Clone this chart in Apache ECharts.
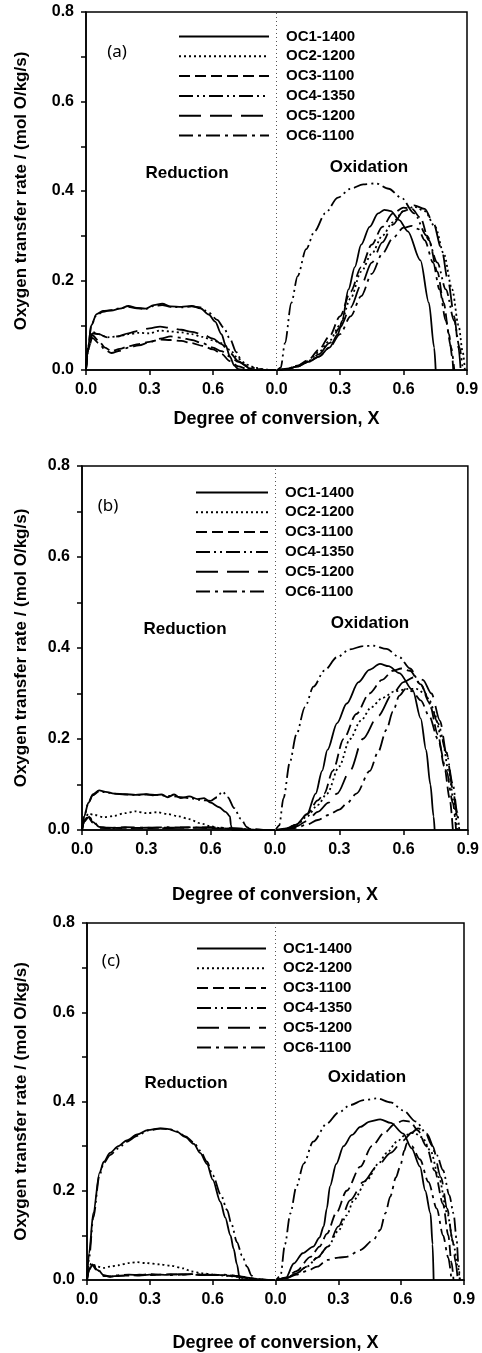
<!DOCTYPE html>
<html>
<head>
<meta charset="utf-8">
<script src="https://cdn.jsdelivr.net/npm/echarts@6/dist/echarts.min.js"></script>
<style>
html,body{margin:0;padding:0;background:#fff;}
#chart{width:482px;height:1353px;}
</style>
</head>
<body>
<div id="chart"></div>
<script>
// ---------- DATA ----------
const seriesNames = ["OC1-1400","OC2-1200","OC3-1100","OC4-1350","OC5-1200","OC6-1100"];
const xTickValues = [0.0, 0.3, 0.6, 0.0, 0.3, 0.6, 0.9];
const panelLabels = ["(a)","(b)","(c)"];

// Panel (a) reduction [X, rate]
const redA_OC1 = [[0,0],[0.01,0.05],[0.025,0.1],[0.05,0.125],[0.08,0.132],[0.12,0.133],[0.16,0.137],[0.2,0.143],[0.24,0.139],[0.28,0.137],[0.32,0.145],[0.36,0.148],[0.4,0.142],[0.45,0.141],[0.5,0.143],[0.54,0.138],[0.58,0.124],[0.61,0.108],[0.64,0.08],[0.66,0.055],[0.68,0.03],[0.7,0.01],[0.72,0.002],[0.75,0]];
const redA_OC2 = [[0,0],[0.01,0.05],[0.03,0.085],[0.06,0.08],[0.1,0.073],[0.15,0.075],[0.2,0.08],[0.25,0.083],[0.3,0.082],[0.35,0.088],[0.4,0.086],[0.45,0.084],[0.5,0.08],[0.55,0.074],[0.6,0.066],[0.64,0.06],[0.68,0.045],[0.72,0.025],[0.76,0.012],[0.8,0.005],[0.85,0.001],[0.88,0]];
const redA_OC3 = [[0,0],[0.01,0.045],[0.03,0.078],[0.06,0.065],[0.09,0.05],[0.12,0.042],[0.16,0.047],[0.2,0.053],[0.25,0.058],[0.3,0.063],[0.35,0.068],[0.4,0.067],[0.45,0.065],[0.5,0.06],[0.55,0.054],[0.6,0.046],[0.64,0.036],[0.68,0.02],[0.72,0.008],[0.76,0.003],[0.8,0]];
const redA_OC4 = [[0,0],[0.01,0.05],[0.025,0.1],[0.05,0.123],[0.08,0.13],[0.12,0.134],[0.16,0.138],[0.2,0.141],[0.24,0.138],[0.28,0.136],[0.32,0.143],[0.36,0.145],[0.4,0.141],[0.45,0.14],[0.5,0.142],[0.54,0.14],[0.58,0.128],[0.62,0.112],[0.65,0.095],[0.68,0.07],[0.71,0.04],[0.74,0.015],[0.77,0.004],[0.8,0]];
const redA_OC5 = [[0,0],[0.01,0.05],[0.03,0.082],[0.06,0.08],[0.1,0.073],[0.15,0.075],[0.2,0.082],[0.25,0.088],[0.3,0.093],[0.35,0.097],[0.4,0.094],[0.45,0.09],[0.5,0.085],[0.55,0.08],[0.6,0.07],[0.64,0.058],[0.68,0.038],[0.72,0.02],[0.76,0.008],[0.8,0.003],[0.84,0]];
const redA_OC6 = [[0,0],[0.01,0.045],[0.03,0.072],[0.06,0.06],[0.09,0.045],[0.12,0.038],[0.16,0.043],[0.2,0.05],[0.25,0.055],[0.3,0.062],[0.35,0.07],[0.4,0.075],[0.45,0.072],[0.5,0.067],[0.55,0.06],[0.6,0.05],[0.64,0.042],[0.68,0.03],[0.72,0.018],[0.76,0.01],[0.8,0.004],[0.85,0]];
// Panel (a) oxidation [X, rate]
const oxA_OC1 = [[0,0],[0.05,0.002],[0.1,0.008],[0.15,0.018],[0.2,0.03],[0.25,0.05],[0.29,0.08],[0.31,0.11],[0.34,0.18],[0.37,0.23],[0.4,0.28],[0.44,0.32],[0.48,0.35],[0.51,0.358],[0.54,0.355],[0.58,0.335],[0.62,0.31],[0.68,0.245],[0.72,0.15],[0.745,0.05],[0.752,0]];
const oxA_OC2 = [[0,0],[0.05,0.002],[0.1,0.01],[0.15,0.02],[0.2,0.04],[0.25,0.065],[0.3,0.1],[0.35,0.16],[0.4,0.22],[0.45,0.26],[0.5,0.3],[0.55,0.33],[0.6,0.355],[0.65,0.365],[0.7,0.355],[0.75,0.32],[0.79,0.26],[0.83,0.18],[0.86,0.1],[0.88,0.04],[0.89,0]];
const oxA_OC3 = [[0,0],[0.05,0.003],[0.1,0.01],[0.15,0.022],[0.2,0.045],[0.25,0.075],[0.3,0.12],[0.35,0.175],[0.4,0.23],[0.45,0.28],[0.5,0.32],[0.55,0.35],[0.6,0.363],[0.64,0.36],[0.68,0.34],[0.72,0.29],[0.76,0.22],[0.79,0.15],[0.815,0.08],[0.83,0.03],[0.835,0]];
const oxA_OC4 = [[0,0],[0.02,0.005],[0.04,0.06],[0.07,0.15],[0.1,0.21],[0.14,0.27],[0.18,0.31],[0.23,0.35],[0.29,0.385],[0.35,0.405],[0.41,0.415],[0.47,0.417],[0.53,0.405],[0.59,0.385],[0.65,0.35],[0.71,0.3],[0.76,0.24],[0.8,0.18],[0.84,0.11],[0.865,0.05],[0.88,0]];
const oxA_OC5 = [[0,0],[0.05,0.002],[0.1,0.008],[0.15,0.02],[0.2,0.035],[0.25,0.06],[0.3,0.095],[0.35,0.14],[0.4,0.19],[0.45,0.24],[0.5,0.285],[0.55,0.325],[0.6,0.355],[0.65,0.368],[0.7,0.36],[0.74,0.33],[0.78,0.27],[0.81,0.2],[0.84,0.12],[0.86,0.05],[0.87,0]];
const oxA_OC6 = [[0,0],[0.05,0.002],[0.1,0.008],[0.15,0.018],[0.2,0.03],[0.25,0.05],[0.3,0.08],[0.35,0.12],[0.4,0.165],[0.45,0.215],[0.5,0.26],[0.55,0.295],[0.6,0.318],[0.64,0.322],[0.67,0.315],[0.7,0.29],[0.74,0.24],[0.77,0.18],[0.8,0.11],[0.825,0.05],[0.84,0]];

// Panel (b) reduction
const redB_OC1 = [[0,0],[0.01,0.03],[0.03,0.06],[0.05,0.078],[0.08,0.087],[0.11,0.084],[0.15,0.08],[0.2,0.079],[0.25,0.077],[0.3,0.079],[0.33,0.076],[0.37,0.078],[0.4,0.072],[0.43,0.078],[0.46,0.07],[0.5,0.074],[0.54,0.068],[0.57,0.07],[0.6,0.06],[0.64,0.05],[0.67,0.04],[0.69,0.03],[0.695,0.01],[0.7,0]];
const redB_OC2 = [[0,0],[0.01,0.02],[0.03,0.036],[0.06,0.033],[0.1,0.028],[0.15,0.031],[0.2,0.037],[0.25,0.041],[0.3,0.037],[0.35,0.039],[0.4,0.035],[0.45,0.03],[0.5,0.024],[0.55,0.015],[0.6,0.008],[0.65,0.004],[0.7,0.002],[0.75,0]];
const redB_OC3 = [[0,0],[0.01,0.02],[0.03,0.03],[0.05,0.018],[0.08,0.006],[0.12,0.004],[0.2,0.005],[0.3,0.004],[0.4,0.005],[0.5,0.006],[0.6,0.004],[0.7,0.003],[0.8,0.001],[0.85,0]];
const redB_OC4 = [[0,0],[0.01,0.03],[0.03,0.06],[0.05,0.076],[0.08,0.085],[0.11,0.083],[0.15,0.08],[0.2,0.078],[0.25,0.077],[0.3,0.078],[0.35,0.077],[0.4,0.075],[0.45,0.073],[0.5,0.07],[0.55,0.066],[0.6,0.064],[0.63,0.072],[0.655,0.085],[0.68,0.072],[0.71,0.048],[0.74,0.025],[0.77,0.006],[0.79,0]];
const redB_OC5 = [[0,0],[0.01,0.018],[0.03,0.028],[0.05,0.016],[0.08,0.005],[0.12,0.005],[0.2,0.004],[0.3,0.005],[0.4,0.004],[0.5,0.005],[0.6,0.005],[0.7,0.003],[0.8,0.001],[0.85,0]];
const redB_OC6 = [[0,0],[0.01,0.02],[0.03,0.032],[0.05,0.02],[0.08,0.007],[0.12,0.004],[0.2,0.006],[0.3,0.005],[0.4,0.006],[0.5,0.005],[0.6,0.006],[0.7,0.004],[0.8,0.002],[0.86,0]];
// Panel (b) oxidation
const oxB_OC1 = [[0,0],[0.05,0.003],[0.1,0.012],[0.15,0.035],[0.19,0.08],[0.22,0.13],[0.245,0.176],[0.29,0.235],[0.335,0.278],[0.39,0.325],[0.44,0.352],[0.49,0.365],[0.53,0.36],[0.58,0.345],[0.643,0.307],[0.68,0.245],[0.705,0.176],[0.725,0.1],[0.74,0.03],[0.745,0]];
const oxB_OC2 = [[0,0],[0.05,0.003],[0.1,0.01],[0.15,0.03],[0.2,0.055],[0.243,0.08],[0.3,0.14],[0.35,0.2],[0.4,0.24],[0.45,0.27],[0.5,0.29],[0.56,0.305],[0.62,0.31],[0.66,0.31],[0.7,0.3],[0.74,0.26],[0.78,0.2],[0.81,0.13],[0.835,0.06],[0.85,0]];
const oxB_OC3 = [[0,0],[0.05,0.003],[0.1,0.012],[0.15,0.035],[0.2,0.065],[0.23,0.08],[0.27,0.13],[0.32,0.2],[0.38,0.255],[0.44,0.3],[0.5,0.33],[0.55,0.35],[0.59,0.355],[0.63,0.35],[0.68,0.32],[0.72,0.28],[0.76,0.21],[0.79,0.14],[0.815,0.07],[0.83,0]];
const oxB_OC4 = [[0,0],[0.02,0.01],[0.04,0.07],[0.07,0.15],[0.1,0.21],[0.14,0.27],[0.18,0.315],[0.23,0.35],[0.29,0.38],[0.35,0.397],[0.41,0.404],[0.46,0.405],[0.52,0.398],[0.58,0.38],[0.63,0.355],[0.68,0.32],[0.72,0.285],[0.76,0.235],[0.8,0.17],[0.83,0.1],[0.85,0.04],[0.86,0]];
const oxB_OC5 = [[0,0],[0.05,0.002],[0.1,0.008],[0.15,0.02],[0.2,0.04],[0.25,0.06],[0.29,0.08],[0.35,0.13],[0.41,0.2],[0.48,0.25],[0.55,0.3],[0.6,0.325],[0.65,0.336],[0.69,0.33],[0.73,0.3],[0.77,0.24],[0.8,0.17],[0.83,0.09],[0.85,0.03],[0.86,0]];
const oxB_OC6 = [[0,0],[0.05,0.002],[0.1,0.005],[0.15,0.012],[0.2,0.022],[0.25,0.033],[0.3,0.045],[0.335,0.058],[0.38,0.08],[0.443,0.13],[0.48,0.17],[0.52,0.22],[0.55,0.26],[0.58,0.295],[0.61,0.31],[0.64,0.305],[0.68,0.285],[0.72,0.25],[0.76,0.2],[0.8,0.13],[0.83,0.06],[0.845,0]];

// Panel (c) reduction
const redC_OC1 = [[0,0],[0.01,0.06],[0.03,0.15],[0.06,0.24],[0.08,0.265],[0.11,0.285],[0.15,0.3],[0.19,0.313],[0.24,0.326],[0.29,0.336],[0.35,0.34],[0.39,0.338],[0.43,0.332],[0.47,0.32],[0.51,0.305],[0.54,0.285],[0.573,0.26],[0.6,0.225],[0.637,0.175],[0.66,0.14],[0.685,0.1],[0.7,0.07],[0.716,0.035],[0.73,0]];
const redC_OC2 = [[0,0],[0.01,0.025],[0.02,0.037],[0.05,0.03],[0.08,0.027],[0.11,0.03],[0.15,0.033],[0.2,0.038],[0.237,0.04],[0.28,0.038],[0.35,0.035],[0.4,0.032],[0.46,0.026],[0.5,0.019],[0.55,0.015],[0.6,0.012],[0.65,0.01],[0.7,0.008],[0.75,0.005],[0.8,0.002],[0.85,0]];
const redC_OC3 = [[0,0],[0.01,0.025],[0.025,0.035],[0.05,0.022],[0.08,0.01],[0.11,0.007],[0.15,0.01],[0.2,0.01],[0.25,0.012],[0.3,0.011],[0.35,0.012],[0.4,0.013],[0.45,0.012],[0.5,0.013],[0.55,0.012],[0.6,0.012],[0.65,0.011],[0.7,0.01],[0.75,0.006],[0.8,0.003],[0.85,0.001],[0.88,0]];
const redC_OC4 = [[0,0],[0.01,0.05],[0.03,0.14],[0.06,0.235],[0.08,0.262],[0.11,0.28],[0.15,0.295],[0.19,0.31],[0.24,0.323],[0.29,0.335],[0.35,0.339],[0.39,0.338],[0.43,0.333],[0.47,0.322],[0.51,0.308],[0.54,0.29],[0.573,0.265],[0.6,0.235],[0.64,0.19],[0.669,0.157],[0.69,0.125],[0.716,0.085],[0.74,0.055],[0.764,0.03],[0.786,0.01],[0.8,0]];
const redC_OC5 = [[0,0],[0.01,0.022],[0.025,0.033],[0.05,0.02],[0.08,0.009],[0.11,0.008],[0.15,0.009],[0.2,0.011],[0.25,0.01],[0.3,0.012],[0.35,0.011],[0.4,0.012],[0.45,0.013],[0.5,0.012],[0.55,0.011],[0.6,0.012],[0.65,0.01],[0.7,0.009],[0.75,0.005],[0.8,0.002],[0.86,0]];
const redC_OC6 = [[0,0],[0.01,0.024],[0.025,0.036],[0.05,0.024],[0.08,0.011],[0.11,0.008],[0.15,0.011],[0.2,0.012],[0.25,0.011],[0.3,0.013],[0.35,0.012],[0.4,0.011],[0.45,0.012],[0.5,0.013],[0.55,0.012],[0.6,0.011],[0.65,0.012],[0.7,0.01],[0.75,0.007],[0.8,0.003],[0.87,0]];
// Panel (c) oxidation
const oxC_OC1 = [[0,0],[0.05,0.005],[0.087,0.037],[0.13,0.06],[0.18,0.075],[0.21,0.095],[0.23,0.12],[0.245,0.16],[0.26,0.21],[0.29,0.26],[0.325,0.3],[0.365,0.325],[0.405,0.343],[0.45,0.355],[0.5,0.36],[0.55,0.352],[0.61,0.328],[0.65,0.295],[0.69,0.254],[0.715,0.2],[0.74,0.149],[0.75,0.08],[0.755,0]];
const oxC_OC2 = [[0,0],[0.05,0.004],[0.1,0.015],[0.15,0.03],[0.2,0.05],[0.25,0.075],[0.3,0.11],[0.34,0.145],[0.373,0.179],[0.437,0.224],[0.49,0.26],[0.53,0.284],[0.58,0.31],[0.62,0.325],[0.66,0.33],[0.7,0.32],[0.74,0.29],[0.78,0.23],[0.82,0.15],[0.85,0.08],[0.87,0.03],[0.88,0]];
const oxC_OC3 = [[0,0],[0.05,0.005],[0.1,0.02],[0.167,0.052],[0.21,0.075],[0.246,0.104],[0.29,0.15],[0.34,0.2],[0.405,0.254],[0.46,0.3],[0.52,0.33],[0.57,0.35],[0.61,0.357],[0.643,0.355],[0.68,0.335],[0.72,0.3],[0.76,0.245],[0.8,0.17],[0.825,0.1],[0.84,0.04],[0.85,0]];
const oxC_OC4 = [[0,0],[0.024,0.01],[0.045,0.08],[0.071,0.149],[0.1,0.21],[0.135,0.261],[0.18,0.31],[0.246,0.351],[0.3,0.375],[0.357,0.392],[0.42,0.403],[0.484,0.407],[0.55,0.398],[0.61,0.38],[0.67,0.355],[0.722,0.328],[0.77,0.28],[0.8,0.246],[0.83,0.19],[0.85,0.149],[0.865,0.09],[0.873,0.037],[0.88,0]];
const oxC_OC5 = [[0,0],[0.05,0.004],[0.1,0.015],[0.15,0.03],[0.2,0.05],[0.25,0.075],[0.3,0.12],[0.357,0.179],[0.42,0.22],[0.484,0.254],[0.55,0.285],[0.61,0.313],[0.65,0.33],[0.68,0.34],[0.71,0.335],[0.75,0.3],[0.79,0.23],[0.82,0.16],[0.845,0.09],[0.86,0.04],[0.87,0]];
const oxC_OC6 = [[0,0],[0.05,0.004],[0.1,0.012],[0.15,0.02],[0.2,0.03],[0.246,0.045],[0.3,0.05],[0.34,0.052],[0.405,0.067],[0.468,0.09],[0.5,0.112],[0.525,0.15],[0.548,0.187],[0.575,0.23],[0.595,0.254],[0.615,0.29],[0.627,0.306],[0.65,0.3],[0.69,0.27],[0.73,0.22],[0.77,0.16],[0.8,0.1],[0.825,0.05],[0.84,0]];

const panels = [
  {red:[redA_OC1,redA_OC2,redA_OC3,redA_OC4,redA_OC5,redA_OC6], ox:[oxA_OC1,oxA_OC2,oxA_OC3,oxA_OC4,oxA_OC5,oxA_OC6]},
  {red:[redB_OC1,redB_OC2,redB_OC3,redB_OC4,redB_OC5,redB_OC6], ox:[oxB_OC1,oxB_OC2,oxB_OC3,oxB_OC4,oxB_OC5,oxB_OC6]},
  {red:[redC_OC1,redC_OC2,redC_OC3,redC_OC4,redC_OC5,redC_OC6], ox:[oxC_OC1,oxC_OC2,oxC_OC3,oxC_OC4,oxC_OC5,oxC_OC6]}
];

// ---------- STYLE / LAYOUT ----------
const FONT = "'Liberation Sans', Arial, sans-serif";
const dashTypes = ['solid',[2,3],[11,5],[14,4,2,4,2,4],[22,9],[14,5,3,5]];
const SPLIT = 0.9; // position of the reduction/oxidation boundary on the combined axis
const grids = [
  {left:86, top:12, width:381, height:358},
  {left:82, top:466, width:387, height:364},
  {left:87, top:923, width:377, height:357}
];
const xNameGaps = [40, 56, 54];
const yNameGaps = [56, 52, 57];
const legendPos = [
  {left:178, top:29, itemWidth:90},
  {left:195, top:485, itemWidth:72},
  {left:196, top:941, itemWidth:69}
];
const textPos = [
  {lab:[117,52], red:[187,173], ox:[369,167]},
  {lab:[108,506], red:[185,629], ox:[370,623]},
  {lab:[111,961], red:[186,1083], ox:[367,1077]}
];

const xAxes = [], yAxes = [], series = [], legends = [], graphics = [];
grids.forEach((g, p) => {
  xAxes.push({
    type:'value', gridIndex:p, min:0, max:1.8, interval:0.3,
    axisLine:{show:true, onZero:false, lineStyle:{color:'#000', width:1.5}},
    axisTick:{show:true, length:5, lineStyle:{color:'#000', width:1.5}},
    splitLine:{show:false},
    axisLabel:{margin:12, color:'#000', fontSize:16, fontWeight:'bold', fontFamily:FONT,
      formatter: v => (v < SPLIT - 1e-9 ? v : v - SPLIT).toFixed(1)},
    name:'Degree of conversion, X', nameLocation:'middle', nameGap:xNameGaps[p],
    nameTextStyle:{color:'#000', fontSize:18, fontWeight:'bold', fontFamily:FONT}
  });
  yAxes.push({
    type:'value', gridIndex:p, min:0, max:0.8, interval:0.2,
    axisLine:{show:true, lineStyle:{color:'#000', width:1.5}},
    axisTick:{show:true, length:5, lineStyle:{color:'#000', width:1.5}},
    minorTick:{show:true, splitNumber:2, length:5, lineStyle:{color:'#000', width:1.5}},
    splitLine:{show:false},
    axisLabel:{margin:12, color:'#000', fontSize:16, fontWeight:'bold', fontFamily:FONT,
      formatter: v => v.toFixed(1)},
    name:'Oxygen transfer rate / (mol O/kg/s)', nameLocation:'middle', nameGap:yNameGaps[p],
    nameTextStyle:{color:'#000', fontSize:17, fontWeight:'bold', fontFamily:FONT}
  });
  seriesNames.forEach((nm, i) => {
    const data = panels[p].red[i].concat(panels[p].ox[i].map(d => [SPLIT + d[0], d[1]]));
    const s = {
      name:nm, type:'line', xAxisIndex:p, yAxisIndex:p, data:data,
      symbol:'none', smooth:0.3, smoothMonotone:'x', silent:true,
      lineStyle:{color:'#000', width:1.8, type:dashTypes[i]},
      itemStyle:{color:'#000'}
    };
    if (i === 0) {
      s.markLine = {silent:true, symbol:'none', label:{show:false},
        lineStyle:{color:'#555', width:1, type:[1,3]}, data:[{xAxis:SPLIT}]};
    }
    series.push(s);
  });
  legends.push({
    orient:'vertical', left:legendPos[p].left, top:legendPos[p].top, padding:0,
    itemWidth:legendPos[p].itemWidth, itemHeight:14, itemGap:4.8, selectedMode:false,
    data:seriesNames,
    itemStyle:{opacity:0, color:'transparent', borderWidth:0},
    lineStyle:{width:2},
    textStyle:{color:'#000', fontSize:15, lineHeight:14, fontWeight:'bold', fontFamily:FONT, padding:[0,0,0,12]}
  });
  const tp = textPos[p];
  graphics.push({type:'text', x:tp.lab[0], y:tp.lab[1], style:{text:panelLabels[p], fill:'#000',
    font:"17px 'Noto Sans', sans-serif", textAlign:'center', textVerticalAlign:'middle'}});
  graphics.push({type:'text', x:tp.red[0], y:tp.red[1], style:{text:'Reduction', fill:'#000',
    font:"bold 17px 'Liberation Sans', Arial, sans-serif", textAlign:'center', textVerticalAlign:'middle'}});
  graphics.push({type:'text', x:tp.ox[0], y:tp.ox[1], style:{text:'Oxidation', fill:'#000',
    font:"bold 17px 'Liberation Sans', Arial, sans-serif", textAlign:'center', textVerticalAlign:'middle'}});
});

const chart = echarts.init(document.getElementById('chart'), null, {renderer:'canvas'});
chart.setOption({
  animation:false,
  backgroundColor:'#fff',
  grid: grids.map(g => Object.assign({show:true, borderColor:'#000', borderWidth:1.5, backgroundColor:'transparent'}, g)),
  xAxis:xAxes, yAxis:yAxes, legend:legends, series:series, graphic:graphics
});
</script>
</body>
</html>
